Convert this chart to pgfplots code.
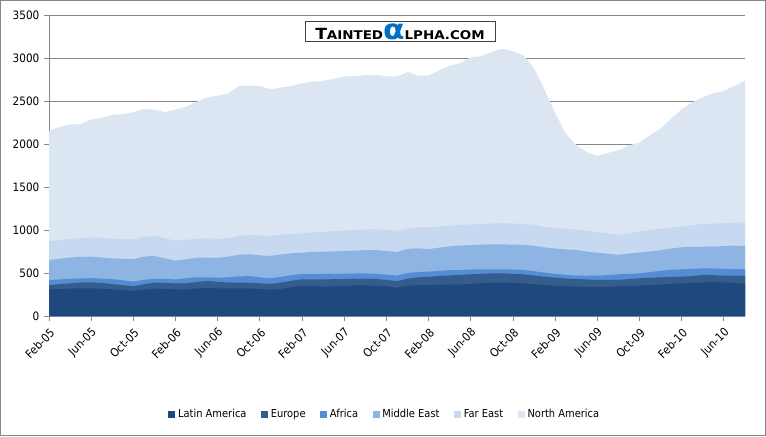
\documentclass[border=0pt]{standalone}
\usepackage{pgfplots}
\pgfplotsset{compat=1.18}
\usepackage{pgfplotstable}
\usepackage{fontspec}
\setmainfont{DejaVu Sans}[FakeStretch=0.9]
\newfontfamily\wmfont{DejaVu Sans}[FakeStretch=1.12]

\definecolor{cla}{RGB}{31,73,125}
\definecolor{ceu}{RGB}{52,92,140}
\definecolor{caf}{RGB}{84,141,212}
\definecolor{cme}{RGB}{142,180,227}
\definecolor{cfe}{RGB}{198,217,240}
\definecolor{cna}{RGB}{220,229,242}
\definecolor{gridgray}{RGB}{134,134,134}
\definecolor{alphablue}{RGB}{0,112,192}

% stacked tops (cumulative), month index 0 = Feb-05
\pgfplotstableread{
i la eu af me fe tot
0 310 360 419 651 870 2153
1 312 370 425 665 880 2200
2 318 380 432 680 895 2227
3 322 390 438 688 905 2230
4 322 392 440 690 915 2285
5 315 385 435 680 910 2305
6 310 370 428 670 898 2336
7 300 360 415 665 892 2348
8 290 345 400 660 890 2370
9 305 370 420 690 920 2406
10 318 388 432 698 930 2400
11 315 385 430 670 905 2370
12 310 380 425 644 876 2400
13 305 380 440 660 885 2433
14 320 395 450 678 900 2490
15 326 407 450 680 903 2543
16 322 398 445 675 895 2560
17 322 390 450 690 905 2590
18 320 388 460 712 930 2675
19 320 388 465 717 942 2680
20 315 380 450 705 935 2675
21 305 372 438 698 930 2636
22 315 390 455 715 945 2656
23 335 410 475 730 955 2675
24 353 426 488 737 961 2706
25 348 426 488 745 970 2726
26 341 426 488 748 978 2734
27 345 428 490 752 985 2757
28 350 430 492 756 995 2785
29 355 432 494 760 1000 2790
30 357 434 496 765 1005 2800
31 350 430 490 767 1008 2805
32 345 420 480 755 1000 2785
33 330 405 470 745 990 2785
34 350 435 500 780 1020 2835
35 358 450 512 787 1030 2796
36 360 457 516 778 1031 2796
37 362 465 525 795 1040 2855
38 366 472 532 810 1050 2910
39 368 477 535 818 1058 2940
40 372 485 540 825 1065 3010
41 380 490 543 830 1070 3020
42 388 496 543 833 1075 3070
43 390 496 543 833 1078 3108
44 385 490 540 830 1075 3077
45 378 485 535 826 1070 3030
46 370 470 520 815 1060 2880
47 360 457 505 798 1035 2630
48 352 445 490 785 1025 2356
49 345 435 478 775 1015 2120
50 341 430 470 767 1005 1985
51 340 425 468 750 990 1907
52 338 419 469 735 975 1860
53 340 419 475 725 961 1895
54 345 420 485 710 942 1927
55 349 430 490 725 960 1985
56 352 438 496 740 981 2016
57 360 445 510 750 1000 2102
58 365 450 525 765 1015 2180
59 372 455 538 785 1030 2297
60 380 457 543 799 1039 2406
61 385 465 548 803 1055 2484
62 390 477 554 806 1070 2543
63 399 475 552 808 1075 2590
64 390 470 548 812 1078 2617
65 382 469 545 818 1085 2675
66 380 469 543 815 1088 2734
}\flows

\begin{document}
\begin{tikzpicture}[x=0.75pt,y=0.75pt]
\draw[gridgray, line width=0.75pt, fill=white] (0.5,0.5) rectangle (765.5,435.5);
\begin{axis}[
    at={(36.75pt,90pt)}, anchor=origin,
    scale only axis,
    width=522pt, height=225.75pt,
    xmin=0, xmax=66, ymin=0, ymax=3500,
    xtick={0,4,...,64},
    xticklabels={Feb-05,Jun-05,Oct-05,Feb-06,Jun-06,Oct-06,Feb-07,Jun-07,Oct-07,Feb-08,Jun-08,Oct-08,Feb-09,Jun-09,Oct-09,Feb-10,Jun-10},
    ytick={0,500,...,3500},
    axis x line*=bottom, axis y line*=left,
    axis line style={gridgray, line width=0.75pt, -},
    tick style={gridgray, line width=0.75pt},
    tick align=outside, major tick length=3.75pt,
    ymajorgrids, grid style={gridgray, line width=0.75pt},
    tick label style={font=\fontsize{8.7}{10}\selectfont, text=black},
    /pgf/number format/assume math mode=true,
    /pgf/number format/1000 sep={},
    xticklabel style={xshift=5pt, yshift=-5pt, rotate=45, anchor=east},
    legend columns=6,
    legend style={at={(0.483,-0.326)}, anchor=center, draw=none, fill=none,
        font=\fontsize{8.25}{10}\selectfont,
        /tikz/every even column/.append style={column sep=9pt}},
    legend image code/.code={\path[#1] (0pt,-2.6pt) rectangle (5.2pt,2.6pt);},
]
\addlegendimage{fill=cla, draw=none}\addlegendentry{Latin America}
\addlegendimage{fill=ceu, draw=none}\addlegendentry{Europe}
\addlegendimage{fill=caf, draw=none}\addlegendentry{Africa}
\addlegendimage{fill=cme, draw=none}\addlegendentry{Middle East}
\addlegendimage{fill=cfe, draw=none}\addlegendentry{Far East}
\addlegendimage{fill=cna, draw=none}\addlegendentry{North America}

\addplot[fill=cna, draw=none, forget plot] table[x=i, y=tot]{\flows} \closedcycle;
\addplot[fill=cfe, draw=none, forget plot] table[x=i, y=fe]{\flows} \closedcycle;
\addplot[fill=cme, draw=none, forget plot] table[x=i, y=me]{\flows} \closedcycle;
\addplot[fill=caf, draw=none, forget plot] table[x=i, y=af]{\flows} \closedcycle;
\addplot[fill=ceu, draw=none, forget plot] table[x=i, y=eu]{\flows} \closedcycle;
\addplot[fill=cla, draw=none, forget plot] table[x=i, y=la]{\flows} \closedcycle;
\end{axis}
\node[draw=black!75, line width=0.75pt, fill=white, minimum width=142.5pt,
      minimum height=15pt, inner sep=0pt] at (400,404)
  {\wmfont\bfseries{\fontsize{11.5}{12}\selectfont T}{\fontsize{9}{12}\selectfont AINTED}{\color{alphablue}\fontsize{21}{12}\selectfont α}{\fontsize{9}{12}\selectfont LPHA.COM}};
\pgfresetboundingbox
\path[use as bounding box] (0,0) rectangle (766,436);
\end{tikzpicture}
\end{document}
